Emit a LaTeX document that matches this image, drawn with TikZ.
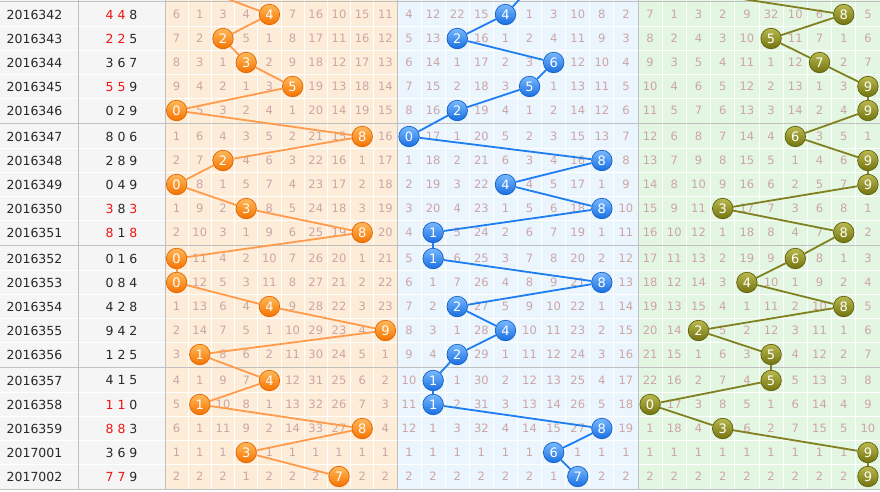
\documentclass[tikz,border=0pt]{standalone}
\usepackage{fontspec}
\setmainfont{DejaVu Sans}
\definecolor{ob}{RGB}{253,236,216}
\definecolor{bb}{RGB}{234,245,254}
\definecolor{gb}{RGB}{227,246,225}
\definecolor{lb}{RGB}{245,245,245}
\definecolor{gridc}{RGB}{192,192,192}
\definecolor{cellc}{RGB}{205,165,165}
\definecolor{txt}{RGB}{40,40,40}
\definecolor{redd}{RGB}{240,20,20}
\definecolor{oline}{RGB}{255,155,75}
\definecolor{bline}{RGB}{30,125,240}
\definecolor{gline}{RGB}{128,128,32}
\definecolor{otop}{RGB}{255,185,90}
\definecolor{obot}{RGB}{245,115,0}
\definecolor{oedge}{RGB}{225,100,0}
\definecolor{btop}{RGB}{120,185,255}
\definecolor{bbot}{RGB}{25,110,225}
\definecolor{bedge}{RGB}{20,95,200}
\definecolor{gtop}{RGB}{185,185,80}
\definecolor{gbot}{RGB}{115,115,15}
\definecolor{gedge}{RGB}{95,95,10}
\newcommand\hlred[1]{\textcolor{redd}{#1}}
\tikzset{
  cellnum/.style={font=\fontsize{11.5}{12}\selectfont, text=cellc, inner sep=0pt},
  issuetxt/.style={font=\fontsize{12.5}{13}\selectfont, text=txt, inner sep=0pt},
  ballbase/.style={circle, minimum size=20.5pt, inner sep=0pt, line width=0.7pt, text=white, font=\fontsize{13}{13}\selectfont},
  oball/.style={ballbase, draw=oedge, top color=otop, bottom color=obot},
  bball/.style={ballbase, draw=bedge, top color=btop, bottom color=bbot},
  gball/.style={ballbase, draw=gedge, top color=gtop, bottom color=gbot},
  oconn/.style={draw=oline, line width=1.8pt},
  bconn/.style={draw=bline, line width=1.8pt},
  gconn/.style={draw=gline, line width=1.8pt},
  sepline/.style={draw=gridc, line width=1.5pt},
  vline/.style={draw=gridc, line width=1pt},
  wline/.style={draw=white, line width=1pt}
}
\begin{document}
\begin{tikzpicture}[x=1pt,y=-1pt]
\useasboundingbox (0,0) rectangle (880,491);
\clip (0,0) rectangle (880,491);
% backgrounds
\fill[white] (0,0) rectangle (880,491);
\fill[lb] (0,0) rectangle (165,489);
\fill[ob] (165,0) rectangle (397,489);
\fill[bb] (397,0) rectangle (638,489);
\fill[gb] (638,0) rectangle (880,489);
% white grid
\foreach \g in {0,...,3} {
  \foreach \i in {1,...,4} {
    \draw[wline] (0,{2.5+122*\g+24*\i}) -- (880,{2.5+122*\g+24*\i});
  }
}
\foreach \c in {1,...,9} {
  \draw[wline] ({165+23.2*\c},0) -- ({165+23.2*\c},489);
  \draw[wline] ({397+24.1*\c},0) -- ({397+24.1*\c},489);
  \draw[wline] ({638+24.2*\c},0) -- ({638+24.2*\c},489);
}
% grey separators
\foreach \g in {0,...,3} {
  \draw[sepline] (0,{1.5+122*\g}) -- (880,{1.5+122*\g});
}
\draw[sepline] (0,489.5) -- (880,489.5);
\foreach \xx in {78,165,397,638} {
  \draw[vline] (\xx,0) -- (\xx,489);
}
% issue and numbers
\foreach \r/\iss/\num in {
 1/2016342/{\hlred{4} \hlred{4} 8},
 2/2016343/{\hlred{2} \hlred{2} 5},
 3/2016344/{3 6 7},
 4/2016345/{\hlred{5} \hlred{5} 9},
 5/2016346/{0 2 9},
 6/2016347/{8 0 6},
 7/2016348/{2 8 9},
 8/2016349/{0 4 9},
 9/2016350/{\hlred{3} 8 \hlred{3}},
 10/2016351/{\hlred{8} 1 \hlred{8}},
 11/2016352/{0 1 6},
 12/2016353/{0 8 4},
 13/2016354/{4 2 8},
 14/2016355/{9 4 2},
 15/2016356/{1 2 5},
 16/2016357/{4 1 5},
 17/2016358/{\hlred{1} \hlred{1} 0},
 18/2016359/{\hlred{8} \hlred{8} 3},
 19/2017001/{3 6 9},
 20/2017002/{\hlred{7} \hlred{7} 9}} {
  \pgfmathsetmacro\yy{14.5+122*int((\r-1)/5)+24*mod(\r-1,5)}
  \node[issuetxt] (iss\r) at (34.5,\yy) {\iss};
  \node[issuetxt] (num\r) at (121.5,\yy) {\num};
}
% section 1 (hundreds)
\foreach \r/\b/\vals in {
 1/4/{6,1,3,4,0,7,16,10,15,11},
 2/2/{7,2,0,5,1,8,17,11,16,12},
 3/3/{8,3,1,0,2,9,18,12,17,13},
 4/5/{9,4,2,1,3,0,19,13,18,14},
 5/0/{0,5,3,2,4,1,20,14,19,15},
 6/8/{1,6,4,3,5,2,21,15,0,16},
 7/2/{2,7,0,4,6,3,22,16,1,17},
 8/0/{0,8,1,5,7,4,23,17,2,18},
 9/3/{1,9,2,0,8,5,24,18,3,19},
 10/8/{2,10,3,1,9,6,25,19,0,20},
 11/0/{0,11,4,2,10,7,26,20,1,21},
 12/0/{0,12,5,3,11,8,27,21,2,22},
 13/4/{1,13,6,4,0,9,28,22,3,23},
 14/9/{2,14,7,5,1,10,29,23,4,0},
 15/1/{3,0,8,6,2,11,30,24,5,1},
 16/4/{4,1,9,7,0,12,31,25,6,2},
 17/1/{5,0,10,8,1,13,32,26,7,3},
 18/8/{6,1,11,9,2,14,33,27,0,4},
 19/3/{1,1,1,0,1,1,1,1,1,1},
 20/7/{2,2,2,1,2,2,2,0,2,2}} {
  \pgfmathsetmacro\yy{14.5+122*int((\r-1)/5)+24*mod(\r-1,5)}
  \foreach \v [count=\c from 0] in \vals {
    \ifnum\c=\b\relax\else
      \node[cellnum] (p\r-\c) at ({176.6+23.2*\c},\yy) {\v};
    \fi
  }
  \node[oball] (a\r) at ({176.6+23.2*\b},\yy) {\b};
}
% section 2 (tens)
\foreach \r/\b/\vals in {
 1/4/{4,12,22,15,0,1,3,10,8,2},
 2/2/{5,13,0,16,1,2,4,11,9,3},
 3/6/{6,14,1,17,2,3,0,12,10,4},
 4/5/{7,15,2,18,3,0,1,13,11,5},
 5/2/{8,16,0,19,4,1,2,14,12,6},
 6/0/{0,17,1,20,5,2,3,15,13,7},
 7/8/{1,18,2,21,6,3,4,16,0,8},
 8/4/{2,19,3,22,0,4,5,17,1,9},
 9/8/{3,20,4,23,1,5,6,18,0,10},
 10/1/{4,0,5,24,2,6,7,19,1,11},
 11/1/{5,0,6,25,3,7,8,20,2,12},
 12/8/{6,1,7,26,4,8,9,21,0,13},
 13/2/{7,2,0,27,5,9,10,22,1,14},
 14/4/{8,3,1,28,0,10,11,23,2,15},
 15/2/{9,4,0,29,1,11,12,24,3,16},
 16/1/{10,0,1,30,2,12,13,25,4,17},
 17/1/{11,0,2,31,3,13,14,26,5,18},
 18/8/{12,1,3,32,4,14,15,27,0,19},
 19/6/{1,1,1,1,1,1,0,1,1,1},
 20/7/{2,2,2,2,2,2,1,0,2,2}} {
  \pgfmathsetmacro\yy{14.5+122*int((\r-1)/5)+24*mod(\r-1,5)}
  \foreach \v [count=\c from 0] in \vals {
    \ifnum\c=\b\relax\else
      \node[cellnum] (q\r-\c) at ({409.05+24.1*\c},\yy) {\v};
    \fi
  }
  \node[bball] (b\r) at ({409.05+24.1*\b},\yy) {\b};
}
% section 3 (units)
\foreach \r/\b/\vals in {
 1/8/{7,1,3,2,9,32,10,6,0,5},
 2/5/{8,2,4,3,10,0,11,7,1,6},
 3/7/{9,3,5,4,11,1,12,0,2,7},
 4/9/{10,4,6,5,12,2,13,1,3,0},
 5/9/{11,5,7,6,13,3,14,2,4,0},
 6/6/{12,6,8,7,14,4,0,3,5,1},
 7/9/{13,7,9,8,15,5,1,4,6,0},
 8/9/{14,8,10,9,16,6,2,5,7,0},
 9/3/{15,9,11,0,17,7,3,6,8,1},
 10/8/{16,10,12,1,18,8,4,7,0,2},
 11/6/{17,11,13,2,19,9,0,8,1,3},
 12/4/{18,12,14,3,0,10,1,9,2,4},
 13/8/{19,13,15,4,1,11,2,10,0,5},
 14/2/{20,14,0,5,2,12,3,11,1,6},
 15/5/{21,15,1,6,3,0,4,12,2,7},
 16/5/{22,16,2,7,4,0,5,13,3,8},
 17/0/{0,17,3,8,5,1,6,14,4,9},
 18/3/{1,18,4,0,6,2,7,15,5,10},
 19/9/{1,1,1,1,1,1,1,1,1,0},
 20/9/{2,2,2,2,2,2,2,2,2,0}} {
  \pgfmathsetmacro\yy{14.5+122*int((\r-1)/5)+24*mod(\r-1,5)}
  \foreach \v [count=\c from 0] in \vals {
    \ifnum\c=\b\relax\else
      \node[cellnum] (s\r-\c) at ({650.1+24.2*\c},\yy) {\v};
    \fi
  }
  \node[gball] (c\r) at ({650.1+24.2*\b},\yy) {\b};
}
% off-picture predecessors
\coordinate (a0) at (199.8,-11.5);
\coordinate (b0) at (529.55,-11.5);
\coordinate (c0) at (674.3,-11.5);
% connectors
\foreach \i [evaluate=\i as \j using int(\i+1)] in {0,...,19} {
  \draw[oconn] (a\i) -- (a\j);
  \draw[bconn] (b\i) -- (b\j);
  \draw[gconn] (c\i) -- (c\j);
}
\end{tikzpicture}
\end{document}
